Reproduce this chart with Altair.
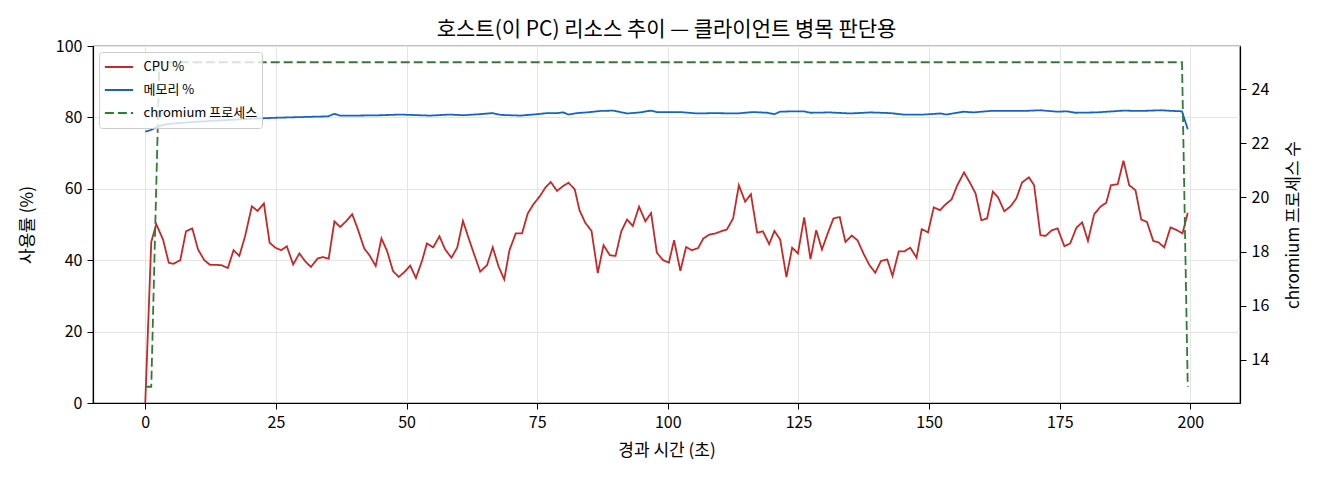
import altair as alt
import pandas as pd

FONT = "Noto Sans CJK KR"

# elapsed time (s) and CPU usage (%)
cpu_t = [0, 1.15, 2.1, 3.4, 4.5, 5.4, 6.7, 7.8, 9.0, 10.1, 11.3, 12.4, 13.5, 14.6, 15.8,
         16.9, 18.0, 19.1, 20.4, 21.5, 22.7, 23.8, 24.9, 26.0, 27.1, 28.3, 29.5, 30.6, 31.7,
         33.0, 34.0, 35.1, 36.2, 37.3, 38.5, 39.6, 40.7, 41.9, 42.9, 44.1, 45.2, 46.3, 47.4,
         48.5, 49.6, 50.7, 51.8, 53.0, 53.9, 55.1, 56.3, 57.4, 58.6, 59.7, 60.8, 61.9, 63.0,
         64.1, 65.4, 66.5, 67.6, 68.7, 69.7, 70.9, 72.1, 73.2, 74.3, 75.5, 76.6, 77.6, 78.8,
         79.9, 81.0, 82.2, 83.1, 84.2, 85.4, 86.6, 87.7, 88.9, 90.0, 91.1, 92.2, 93.3, 94.5,
         95.7, 96.8, 97.9, 99.1, 100.2, 101.2, 102.4, 103.5, 104.6, 105.8, 106.8, 108.0, 109.1,
         110.2, 111.3, 112.5, 113.6, 114.8, 115.9, 117.1, 118.2, 119.4, 120.4, 121.5, 122.7,
         123.8, 124.9, 126.1, 127.3, 128.4, 129.5, 130.6, 131.7, 132.9, 134.0, 135.2, 136.3,
         137.5, 138.6, 139.7, 140.8, 142.0, 143.0, 144.2, 145.3, 146.4, 147.6, 148.6, 149.8,
         150.9, 152.1, 153.2, 154.3, 155.4, 156.7, 157.9, 158.9, 160.0, 161.1, 162.2, 163.2,
         164.4, 165.6, 166.7, 167.8, 169.1, 170.1, 171.3, 172.3, 173.5, 174.6, 175.9, 177.0,
         178.2, 179.3, 180.4, 181.6, 182.8, 183.9, 184.8, 186.1, 187.2, 188.3, 189.5, 190.6,
         191.7, 192.9, 193.9, 195.0, 196.2, 197.3, 198.5, 199.5]
cpu_v = [0, 45.1, 50.1, 45.8, 39.3, 39.0, 40.0, 48.1, 48.9, 43.0, 40.0, 38.7, 38.7, 38.6, 37.8,
         42.8, 41.2, 46.7, 55.1, 53.8, 55.9, 44.9, 43.5, 42.8, 43.9, 38.8, 41.9, 39.7, 38.1,
         40.5, 40.9, 40.4, 50.9, 49.3, 51.0, 52.9, 48.6, 43.3, 41.4, 38.4, 46.1, 42.5, 37.0,
         35.3, 36.7, 38.5, 35.0, 40.0, 44.7, 43.6, 46.7, 43.0, 40.7, 43.5, 51.0, 46.1, 41.4,
         36.8, 38.6, 43.6, 38.3, 34.6, 42.8, 47.5, 47.5, 53.1, 55.7, 57.9, 60.4, 61.9, 59.4,
         60.7, 61.7, 59.8, 54.0, 50.5, 48.2, 36.4, 44.2, 41.4, 41.2, 48.1, 51.4, 49.6, 55.0,
         50.9, 53.2, 42.1, 40.0, 39.3, 45.6, 37.0, 43.7, 42.8, 43.4, 46.1, 47.2, 47.5,
         48.1, 48.6, 51.7, 61.0, 56.4, 58.5, 47.7, 48.1, 44.5, 48.2, 45.8, 35.3,
         43.5, 41.9, 52.0, 40.3, 48.4, 43.0, 47.5, 51.7, 52.1, 45.1, 46.9, 45.6,
         41.7, 38.6, 36.5, 39.8, 40.2, 35.6, 42.5, 42.5, 43.5, 40.7, 48.7, 47.8,
         54.8, 54.0, 55.7, 57.0, 61.0, 64.6, 61.5, 58.7, 51.2, 51.7, 59.2, 57.6,
         53.7, 55.1, 57.3, 61.8, 63.2, 61.0, 47.0, 46.8, 48.4, 48.9, 43.9, 44.7,
         49.1, 50.6, 45.4, 52.9, 55.0, 56.1, 61.0, 61.3, 67.9, 61.0, 59.6, 51.4,
         50.7, 45.4, 45.0, 43.6, 49.2, 48.5, 47.5, 53.3]

# memory usage (%)
mem_t = [0, 1.15, 2.1, 3.4, 5.4, 10, 15, 20, 25, 30, 35, 36.2, 37.3, 40, 45, 48.8, 54.5, 58.2,
         60.9, 64, 66.4, 68, 71.8, 75, 76.9, 78.8, 80, 81, 82.6, 84.5, 87.1, 89.6, 92.2, 94.7,
         96.7, 97.9, 102.4, 105.6, 108.8, 113.2, 116.4, 119, 120.4, 121.5, 124, 126, 127.3,
         131, 134.9, 138.8, 142.6, 145.1, 149, 152.2, 153.3, 156.6, 158.5, 161.7, 168.1,
         171.3, 174.5, 176.4, 178, 182.1, 187.2, 190.4, 194.3, 196.8, 198.4, 199.5]
mem_v = [76.0, 76.5, 77.2, 77.9, 78.3, 78.8, 79.2, 79.6, 79.9, 80.1, 80.3, 81.0, 80.5, 80.5,
         80.6, 80.8, 80.5, 80.8, 80.6, 80.9, 81.2, 80.7, 80.5, 80.9, 81.2, 81.2, 81.4, 80.8,
         81.2, 81.4, 81.8, 81.9, 81.1, 81.4, 81.9, 81.5, 81.5, 81.1, 81.2, 81.1, 81.5, 81.3,
         80.9, 81.6, 81.7, 81.7, 81.3, 81.4, 81.1, 81.4, 81.2, 80.8, 80.8, 81.1, 80.8, 81.6,
         81.4, 81.8, 81.8, 82.0, 81.6, 81.7, 81.3, 81.4, 81.9, 81.8, 82.0, 81.8, 81.7, 76.7]

# chromium process count
proc_t = [0, 1.15, 2.7, 198.4, 199.5]
proc_v = [13, 13, 25, 25, 13]

series = ["CPU %", "메모리 %", "chromium 프로세스"]
colors = ["#c62828", "#1565c0", "#2e7d32"]
dashes = [[1, 0], [1, 0], [9, 4]]

left_df = pd.concat([
    pd.DataFrame({"t": cpu_t, "v": cpu_v, "series": series[0]}),
    pd.DataFrame({"t": mem_t, "v": mem_v, "series": series[1]}),
])
right_df = pd.DataFrame({"t": proc_t, "v": proc_v, "series": series[2]})

W, H = 1147, 357

x_enc = alt.X("t:Q", scale=alt.Scale(domain=[-10, 209.5], nice=False, zero=False),
              axis=alt.Axis(title="경과 시간 (초)", values=[0, 25, 50, 75, 100, 125, 150, 175, 200],
                            titleX=W / 2, titleY=47, titleBaseline="middle"))
color_enc = alt.Color("series:N", scale=alt.Scale(domain=series, range=colors),
                      legend=alt.Legend(title=None, orient="top-left", offset=6,
                                        symbolType="stroke", symbolSize=800, symbolStrokeWidth=1.8,
                                        clipHeight=21, rowPadding=2, padding=4.5, labelOffset=9,
                                        labelFontSize=13, labelFont=FONT, labelColor="black",
                                        fillColor="rgba(255,255,255,0.8)", strokeColor="#cccccc",
                                        cornerRadius=3))
dash_enc = alt.StrokeDash("series:N", scale=alt.Scale(domain=series, range=dashes), legend=None)

left = alt.Chart(left_df).mark_line(strokeWidth=1.8).encode(
    x=x_enc,
    y=alt.Y("v:Q", scale=alt.Scale(domain=[0, 100], nice=False),
            axis=alt.Axis(title="사용률 (%)", values=[0, 20, 40, 60, 80, 100],
                          titleX=-66, titleY=H / 2, titleBaseline="middle", titleAngle=270)),
    color=color_enc,
    strokeDash=dash_enc,
    detail="series:N",
)

right = alt.Chart(right_df).mark_line(strokeWidth=1.8).encode(
    x=x_enc,
    y=alt.Y("v:Q", scale=alt.Scale(domain=[12.4, 25.6], nice=False, zero=False),
            axis=alt.Axis(title="chromium 프로세스 수", orient="right", grid=False,
                          values=[14, 16, 18, 20, 22, 24],
                          titleX=53, titleY=H / 2, titleBaseline="middle", titleAngle=270)),
    color=color_enc,
    strokeDash=dash_enc,
)

chart = alt.layer(left, right).resolve_scale(y="independent").properties(
    width=W, height=H,
    title=alt.TitleParams("호스트(이 PC) 리소스 추이 — 클라이언트 병목 판단용",
                          anchor="middle", frame="group", baseline="middle", offset=-13),
    autosize=alt.AutoSizeParams(type="none"),
    padding={"left": 85, "top": 38, "right": 64, "bottom": 60},
).configure_view(stroke="black", strokeWidth=1.2).configure_axis(
    labelFont=FONT, titleFont=FONT, labelFontSize=16, titleFontSize=17,
    labelColor="black", titleColor="black", titleFontWeight="normal",
    domainColor="black", domainWidth=1.2, tickColor="black", tickSize=6, labelPadding=5,
    gridColor="#e5e5e5", gridWidth=1,
).configure_title(font=FONT, fontSize=21, fontWeight="normal", color="black")

chart.save("out.html", embed_options={"renderer": "svg", "actions": False})
